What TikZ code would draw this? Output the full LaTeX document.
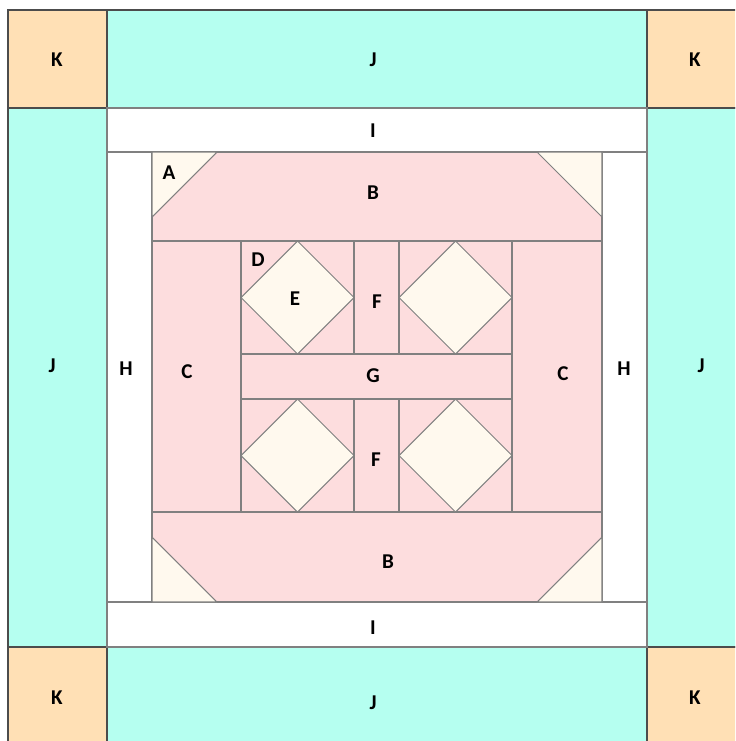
\documentclass[tikz,border=0pt]{standalone}
\usepackage{fontspec}
\setmainfont{Carlito}
\definecolor{cornerpeach}{HTML}{FFE0B5}
\definecolor{bordercyan}{HTML}{B5FFF0}
\definecolor{blockpink}{HTML}{FDDDDE}
\definecolor{blockcream}{HTML}{FFF9EE}
\tikzset{
      outerpatch/.style={
        draw=black!70,
        line width=0.6pt
      },
      innerpatch/.style={
        draw=black!50,
        line width=0.6pt
      },
      patchlabel/.style={
        font=\fontsize{12}{14}\selectfont\bfseries,
        inner sep=0pt
      }
    }
\begin{document}
\begin{tikzpicture}[x=0.02cm,y=-0.02cm]
    \clip (0,0) rectangle (735,741);
    \fill[white] (0,0) rectangle (735,741);
    % outer border
    \foreach \cx/\cy in {8/10,647/10,8/647,647/647}
      \draw[outerpatch, fill=cornerpeach] (\cx,\cy) rectangle ++(99,98);
    \draw[outerpatch, fill=bordercyan] (107,10) rectangle (647,108);
    \draw[outerpatch, fill=bordercyan] (107,647) rectangle (647,745);
    \draw[outerpatch, fill=bordercyan] (8,108) rectangle (107,647);
    \draw[outerpatch, fill=bordercyan] (647,108) rectangle (745,647);
    % inner border
    \draw[innerpatch, fill=white] (107,108) rectangle (647,152);
    \draw[innerpatch, fill=white] (107,602) rectangle (647,647);
    \draw[innerpatch, fill=white] (107,152) rectangle (152,602);
    \draw[innerpatch, fill=white] (602,152) rectangle (647,602);
    % block
    \draw[innerpatch, fill=blockpink] (152,152) rectangle (602,241);
    \draw[innerpatch, fill=blockpink] (152,512) rectangle (602,602);
    \draw[innerpatch, fill=blockpink] (152,241) rectangle (241,512);
    \draw[innerpatch, fill=blockpink] (512,241) rectangle (602,512);
    \draw[innerpatch, fill=blockcream] (152,152) -- (217,152) -- (152,217) -- cycle;
    \draw[innerpatch, fill=blockcream] (602,152) -- (537,152) -- (602,217) -- cycle;
    \draw[innerpatch, fill=blockcream] (152,602) -- (217,602) -- (152,537) -- cycle;
    \draw[innerpatch, fill=blockcream] (602,602) -- (537,602) -- (602,537) -- cycle;
    % centre
    \foreach \sx/\sy in {241/241,399/241,241/399,399/399} {
      \draw[innerpatch, fill=blockpink] (\sx,\sy) rectangle ++(113,113);
      \draw[innerpatch, fill=blockcream] (\sx+56.5,\sy) -- (\sx+113,\sy+56.5)
        -- (\sx+56.5,\sy+113) -- (\sx,\sy+56.5) -- cycle;
    }
    \draw[innerpatch, fill=blockpink] (354,241) rectangle (399,354);
    \draw[innerpatch, fill=blockpink] (354,399) rectangle (399,512);
    \draw[innerpatch, fill=blockpink] (241,354) rectangle (512,399);
    % labels
    \node[patchlabel] (ktl) at (57,60) {K};
    \node[patchlabel] (jt) at (373,60) {J};
    \node[patchlabel] (ktr) at (695,60) {K};
    \node[patchlabel] (it) at (373,131) {I};
    \node[patchlabel] (jl) at (52,366) {J};
    \node[patchlabel] (hl) at (126,369) {H};
    \node[patchlabel] (cl) at (187,372) {C};
    \node[patchlabel] (g) at (373,376) {G};
    \node[patchlabel] (cr) at (563,374) {C};
    \node[patchlabel] (hr) at (624,369) {H};
    \node[patchlabel] (jr) at (701,366) {J};
    \node[patchlabel] (a) at (169,173) {A};
    \node[patchlabel] (bt) at (373,193) {B};
    \node[patchlabel] (d) at (258,260) {D};
    \node[patchlabel] (e) at (295,299) {E};
    \node[patchlabel] (ft) at (377,302) {F};
    \node[patchlabel] (fb) at (376,460) {F};
    \node[patchlabel] (bb) at (388,562) {B};
    \node[patchlabel] (ib) at (373,628) {I};
    \node[patchlabel] (kbl) at (57,698) {K};
    \node[patchlabel] (jb) at (373,703) {J};
    \node[patchlabel] (kbr) at (695,698) {K};
    \end{tikzpicture}
\end{document}
